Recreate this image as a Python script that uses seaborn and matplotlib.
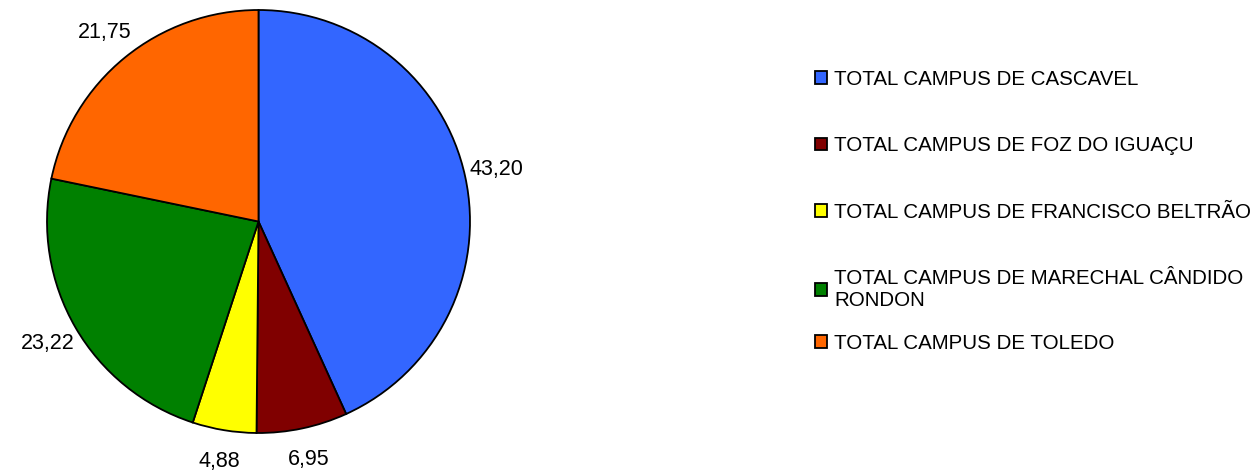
import matplotlib
matplotlib.use("Agg")
import matplotlib.pyplot as plt
import seaborn as sns

# Data
campus = [
    "TOTAL CAMPUS DE CASCAVEL",
    "TOTAL CAMPUS DE FOZ DO IGUAÇU",
    "TOTAL CAMPUS DE FRANCISCO BELTRÃO",
    "TOTAL CAMPUS DE MARECHAL CÂNDIDO\nRONDON",
    "TOTAL CAMPUS DE TOLEDO",
]
percent = [43.20, 6.95, 4.88, 23.22, 21.75]
colors = ["#3366FF", "#800000", "#FFFF00", "#008000", "#FF6600"]

sns.set_style("white")
plt.rcParams["font.family"] = ["Liberation Sans", "DejaVu Sans"]
plt.rcParams["text.color"] = "black"

palette = sns.color_palette(colors)
labels = [f"{v:.2f}".replace(".", ",") for v in percent]

fig = plt.figure(figsize=(12.58, 4.73), dpi=100)
ax = fig.add_axes([47 / 1258, 40 / 473, 423 / 1258, 423 / 473])

wedges, texts = ax.pie(
    percent,
    labels=labels,
    colors=palette,
    startangle=90,
    counterclock=False,
    labeldistance=1.15,
    wedgeprops=dict(edgecolor="black", linewidth=1.3),
    textprops=dict(fontsize=15.5, color="black"),
)
for t in texts:
    t.set_horizontalalignment("center")
    t.set_verticalalignment("center")
ax.set_xlim(-1, 1)
ax.set_ylim(-1, 1)
ax.set_aspect("equal")

# legend: Excel keeps equal slots, so the last entry goes in its own legend
leg_kw = dict(
    loc="upper left",
    frameon=False,
    fontsize=14.8,
    labelspacing=2.3,
    handlelength=0.58,
    handleheight=0.58,
    handletextpad=0.35,
    borderpad=0,
    borderaxespad=0,
)
fig.legend(wedges[:4], campus[:4], bbox_to_anchor=(815 / 1258, 1 - 70 / 473), **leg_kw)
fig.legend(wedges[4:], campus[4:], bbox_to_anchor=(815 / 1258, 1 - 334 / 473), **leg_kw)

fig.savefig("out.png", dpi=100, facecolor="white")
